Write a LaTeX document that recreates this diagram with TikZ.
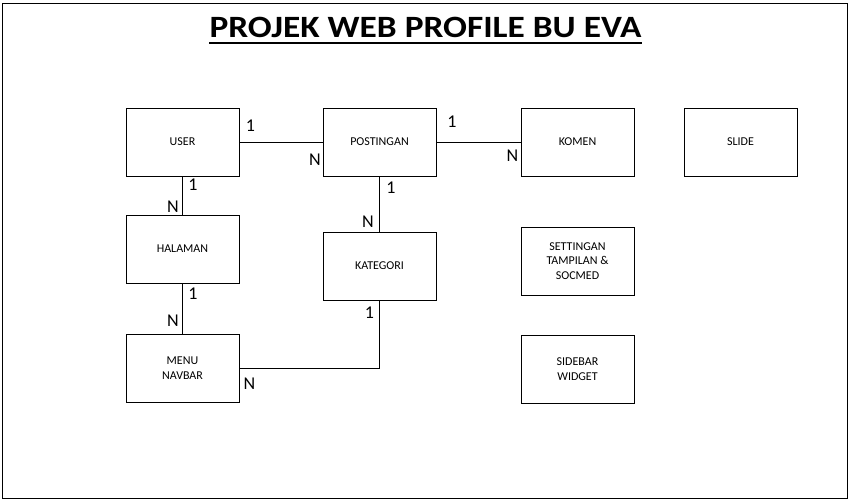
\documentclass[tikz,border=0pt]{standalone}
\usepackage{fontspec}
\setmainfont{Carlito}
\newfontfamily\titlefont[FakeStretch=1.14]{Carlito}
\usetikzlibrary{positioning}
\tikzset{entity/.style={shape=rectangle,draw = black,line width = 1pt,
    minimum width = 113pt,minimum height = 68pt,inner sep = 0pt,
    align = center,font = \fontsize{12}{14.3}\selectfont}}
\tikzset{card/.style={inner sep = 0pt,font = \fontsize{18}{18}\selectfont}}
\tikzset{link/.style={draw = black,line width = 1pt}}

\begin{document}
\begin{tikzpicture}[x = 1pt,y = -1pt]
  \useasboundingbox (0,0) rectangle (850,501);
  \draw[line width = 1pt] (2,3) rectangle (847,498);

  \node (title) [inner sep = 0pt,anchor = base,font = \titlefont\fontsize{31}{32}\bfseries]
    at (425.5,37) {PROJEK WEB PROFILE BU EVA};
  \draw[line width = 2pt] ([yshift = -5.5pt]title.base west) -- ([yshift = -5.5pt]title.base east);

  \node (USER) [entity] at (182.5,142) {USER};
  \node (POST) [entity,right = 83pt of USER] {POSTINGAN};
  \node (KOMEN) [entity,right = 84pt of POST] {KOMEN};
  \node (SLIDE) [entity,right = 49pt of KOMEN] {SLIDE};
  \node (HAL) [entity,below = 38pt of USER] {HALAMAN};
  \node (MENU) [entity,below = 50pt of HAL] {MENU\\NAVBAR};
  \node (KAT) [entity,below = 55pt of POST] {KATEGORI};
  \node (SET) [entity,below = 50pt of KOMEN] {SETTINGAN\\TAMPILAN \&\\SOCMED};
  \node (SIDE) [entity,below = 39pt of SET] {SIDEBAR\\WIDGET};

  \path[link] (USER) -- (POST);
  \path[link] (POST) -- (KOMEN);
  \path[link] (USER) -- (HAL);
  \path[link] (HAL) -- (MENU);
  \path[link] (POST) -- (KAT);
  \path[link] (KAT.south) |- (MENU.east);

  \node (c1) [card] at (250.5,125.5) {1};
  \node (c2) [card] at (315,160) {N};
  \node (c3) [card] at (452,121.5) {1};
  \node (c4) [card] at (512.5,156) {N};
  \node (c5) [card] at (193,185) {1};
  \node (c6) [card] at (173,206.5) {N};
  \node (c7) [card] at (391,188) {1};
  \node (c8) [card] at (368,221.5) {N};
  \node (c9) [card] at (193,294) {1};
  \node (c10) [card] at (173,321) {N};
  \node (c11) [card] at (369.5,312.5) {1};
  \node (c12) [card] at (249.5,384) {N};
\end{tikzpicture}
\end{document}
